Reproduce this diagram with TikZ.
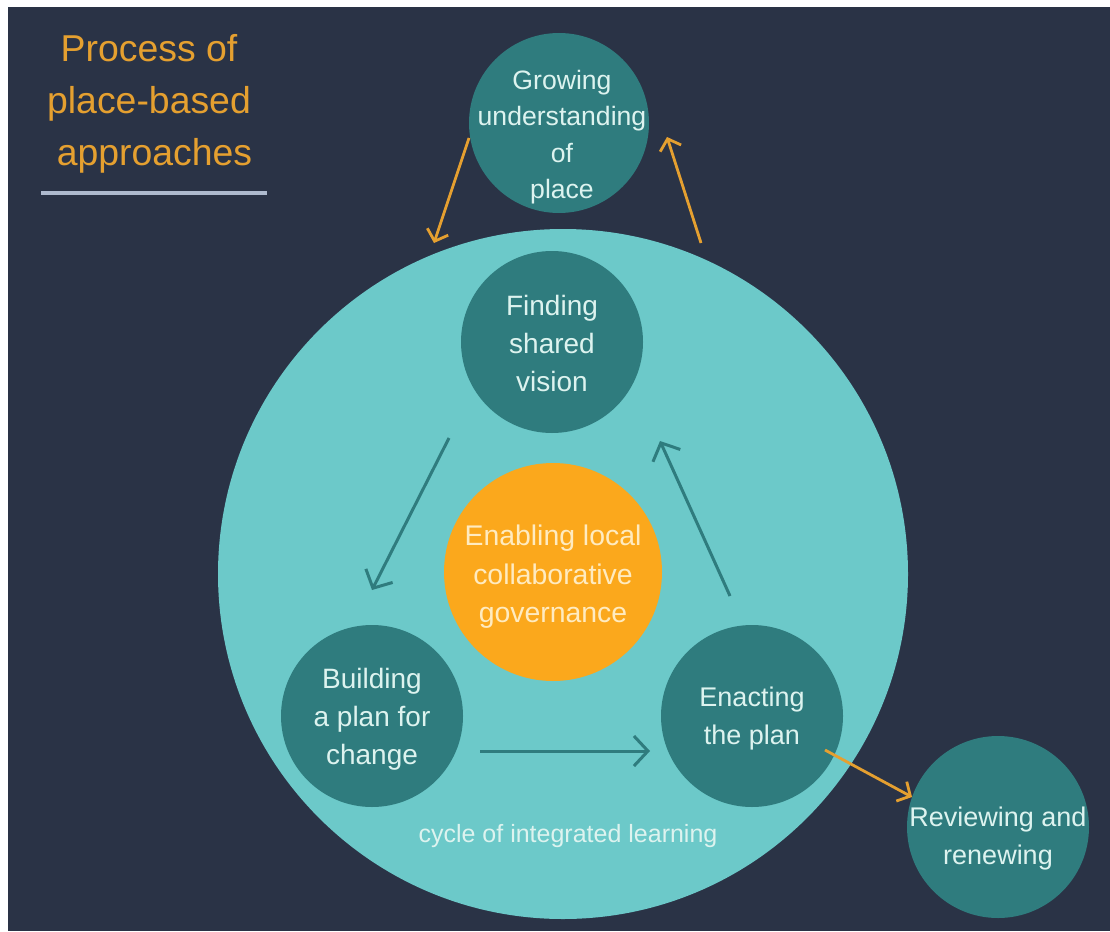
\documentclass[tikz,border=0pt]{standalone}
\usepackage{fontspec}
\setmainfont{Liberation Sans}
\usetikzlibrary{arrows.meta,calc}
\definecolor{bgdark}{HTML}{2A3346}
\definecolor{bigteal}{HTML}{6CC9C9}
\definecolor{darkteal}{HTML}{2F7C7E}
\definecolor{hub}{HTML}{FBA81C}
\definecolor{amber}{HTML}{E5A030}
\definecolor{paletxt}{HTML}{DDF3EF}
\definecolor{creamtxt}{HTML}{FFEBC0}
\definecolor{rulecol}{HTML}{AEBACE}
\tikzset{
  x=1pt,y=-1pt,
  disc/.style={circle,draw=none,inner sep=0pt,minimum size=#1},
  stage/.style={disc=182pt,fill=darkteal},
  txt/.style={align=center,text=paletxt,font=\fontsize{28}{38}\selectfont,inner sep=0pt},
  amberarrow/.style={draw=amber,line width=2.8pt,-{Straight Barb[length=10pt,width=22pt,line width=2.8pt]}},
  tealarrow/.style={draw=darkteal,line width=3pt,-{Straight Barb[length=14pt,width=30pt,line width=3pt]}},
}
\begin{document}
\begin{tikzpicture}
\useasboundingbox (0,0) rectangle (1110,931);
\fill[white] (0,0) rectangle (1110,931);
\fill[bgdark] (8,7) rectangle (1110,931);
\node[align=center,text=amber,font=\fontsize{37.4}{52}\selectfont,inner sep=0pt] (title) at (149,103.5) {Process of\\place-based\\\hspace*{11pt}approaches};
\coordinate (ruleL) at (41,193);
\coordinate (ruleR) at (267,193);
\draw[rulecol,line width=3.2pt] (ruleL) -- (ruleR);
\node[disc=690pt,fill=bigteal] (main) at (563,574) {};
\node[stage,disc=180pt] (growing) at (559,123) {};
\node[txt,font=\fontsize{26.6}{36.5}\selectfont] (growingtxt) at ($(growing)+(3,14)$) {Growing\\understanding\\of\\place};
\node[stage] (finding) at (552,342) {};
\node[txt] (findingtxt) at ($(finding)+(0,1)$) {Finding\\shared\\vision};
\node[disc=218pt,fill=hub] (enabling) at (553,572) {};
\node[txt,text=creamtxt,font=\fontsize{28.4}{38.5}\selectfont] (enablingtxt) at ($(enabling)+(-0,5)$) {Enabling local\\collaborative\\governance};
\node[stage] (building) at (372,716) {};
\node[txt] (buildingtxt) at ($(building)+(0,3)$) {Building\\a plan for\\change};
\node[stage] (enacting) at (752,716) {};
\node[txt,font=\fontsize{27}{38}\selectfont] (enactingtxt) at ($(enacting)+(0,3)$) {Enacting\\the plan};
\node[stage] (reviewing) at (998,827) {};
\node[txt,font=\fontsize{27}{38}\selectfont] (reviewingtxt) at ($(reviewing)+(0,12)$) {Reviewing and\\renewing};
\node[txt,font=\fontsize{25}{30}\selectfont] (cycle) at (568,836) {cycle of integrated learning};
\coordinate (g1) at ($(growing)+(-90,15)$);
\coordinate (m1) at ($(main)+(-129,-331)$);
\coordinate (m2) at ($(main)+(138,-331)$);
\coordinate (g2) at ($(growing)+(108,14)$);
\coordinate (f1) at ($(finding)+(-103,96)$);
\coordinate (b1) at ($(building)+(0,-126)$);
\coordinate (b2) at ($(building)+(108,35)$);
\coordinate (e1) at ($(enacting)+(-102,35)$);
\coordinate (e2) at ($(enacting)+(-22,-120)$);
\coordinate (f2) at ($(finding)+(108,99)$);
\coordinate (e3) at ($(enacting)+(73,34)$);
\coordinate (r1) at ($(reviewing)+(-86,-30)$);
\draw[amberarrow] (g1) -- (m1);
\draw[amberarrow] (m2) -- (g2);
\draw[tealarrow] (f1) -- (b1);
\draw[tealarrow] (b2) -- (e1);
\draw[tealarrow] (e2) -- (f2);
\draw[amberarrow] (e3) -- (r1);
\end{tikzpicture}
\end{document}
